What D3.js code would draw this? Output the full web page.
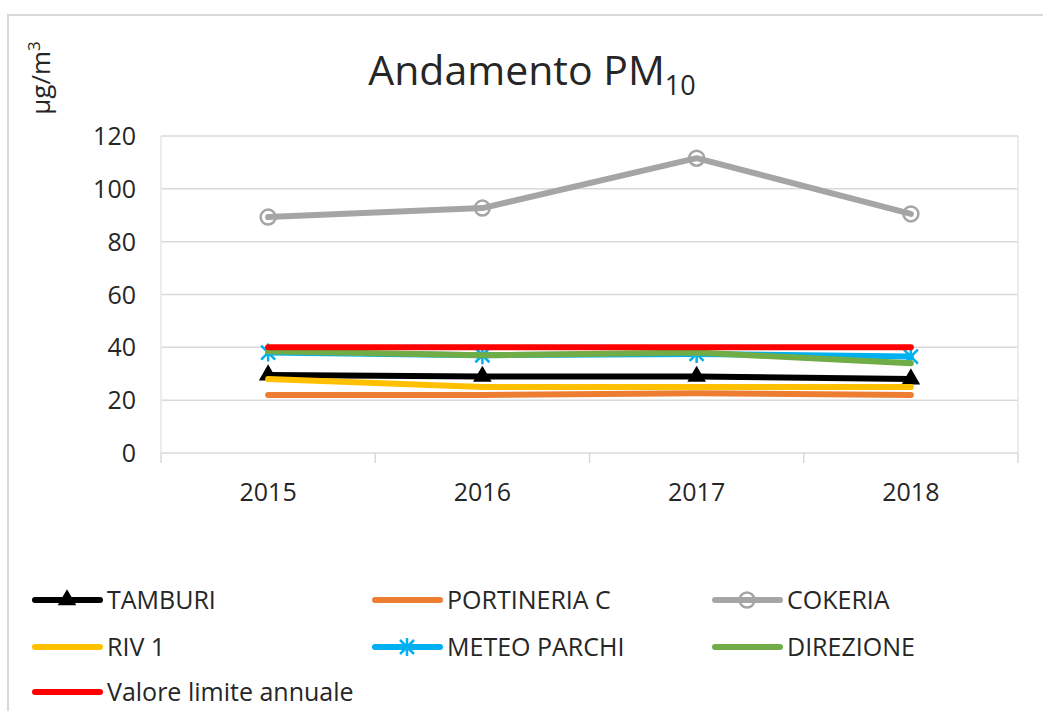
<!DOCTYPE html>
<html lang="it">
<head>
<meta charset="UTF-8">
<title>Andamento PM10</title>
<style>
  body { margin: 0; background: #fff; }
  text { font-family: "Open Sans", sans-serif; fill: #262626; }
</style>
</head>
<body>
<script src="https://d3js.org/d3.v7.min.js"></script>
<script>
  // data
  var years = ["2015", "2016", "2017", "2018"];
  var tamburi     = [29.5, 29, 29, 28];
  var portineria  = [22, 22, 22.6, 22];
  var cokeria     = [89.3, 92.7, 111.6, 90.5];
  var riv1        = [28, 25, 25, 25];
  var meteoParchi = [38, 37, 37.5, 36.5];
  var direzione   = [38.5, 37, 38, 34];
  var limite      = [40, 40, 40, 40];
  var yTicks = [0, 20, 40, 60, 80, 100, 120];

  var series = [
    {name: "TAMBURI", values: tamburi, color: "#000000", marker: "triangle"},
    {name: "PORTINERIA C", values: portineria, color: "#ED7D31", marker: null},
    {name: "COKERIA", values: cokeria, color: "#A5A5A5", marker: "circle"},
    {name: "RIV 1", values: riv1, color: "#FFC000", marker: null},
    {name: "METEO PARCHI", values: meteoParchi, color: "#00B0F0", marker: "star"},
    {name: "DIREZIONE", values: direzione, color: "#70AD47", marker: null},
    {name: "Valore limite annuale", values: limite, color: "#FF0000", marker: null}
  ];

  var W = 1043, H = 711;
  var plot = {left: 161, right: 1018, top: 136, bottom: 453};

  var svg = d3.select("body").append("svg")
      .attr("width", W).attr("height", H);

  // outer chart frame (only top and left visible)
  svg.append("path")
      .attr("d", "M8,711 L8,15 L1043,15")
      .attr("fill", "none").attr("stroke", "#d9d9d9").attr("stroke-width", 2);

  var x = d3.scaleBand().domain(years).range([plot.left, plot.right]).padding(0);
  var y = d3.scaleLinear().domain([0, 120]).range([plot.bottom, plot.top]);
  var cx = function(i) { return x(years[i]) + x.bandwidth() / 2; };

  // gridlines
  svg.append("g").selectAll("line")
      .data(yTicks)
    .enter().append("line")
      .attr("x1", plot.left).attr("x2", plot.right)
      .attr("y1", function(d) { return y(d); })
      .attr("y2", function(d) { return y(d); })
      .attr("stroke", "#d9d9d9").attr("stroke-width", 1.5);

  // plot area sides
  [plot.left, plot.right].forEach(function(px) {
    svg.append("line")
        .attr("x1", px).attr("x2", px).attr("y1", plot.top).attr("y2", plot.bottom)
        .attr("stroke", "#e6e6e6").attr("stroke-width", 1.5);
  });

  // y axis labels
  svg.append("g").selectAll("text")
      .data(yTicks)
    .enter().append("text")
      .attr("x", 136)
      .attr("y", function(d) { return y(d); })
      .attr("dy", "0.36em")
      .attr("text-anchor", "end")
      .style("font-size", "25px")
      .text(function(d) { return d; });

  // x axis: tick marks at band boundaries and labels
  var bounds = years.map(function(d) { return x(d); }).concat([plot.right]);
  svg.append("g").selectAll("line")
      .data(bounds)
    .enter().append("line")
      .attr("x1", function(d) { return d; }).attr("x2", function(d) { return d; })
      .attr("y1", plot.bottom).attr("y2", plot.bottom + 10)
      .attr("stroke", "#d9d9d9").attr("stroke-width", 1.5);

  svg.append("g").selectAll("text")
      .data(years)
    .enter().append("text")
      .attr("x", function(d, i) { return cx(i); })
      .attr("y", 501)
      .attr("text-anchor", "middle")
      .style("font-size", "25px")
      .text(function(d) { return d; });

  // title
  var title = svg.append("text")
      .attr("x", 532).attr("y", 85)
      .attr("text-anchor", "middle")
      .style("font-size", "41px");
  title.append("tspan").text("Andamento PM");
  title.append("tspan").attr("dy", 10).style("font-size", "27px").text("10");

  // y unit label
  var unit = svg.append("text")
      .attr("transform", "translate(50,78) rotate(-90)")
      .attr("text-anchor", "middle")
      .style("font-size", "26px");
  unit.append("tspan").text("µg/m");
  unit.append("tspan").attr("dy", -10).style("font-size", "17px").text("3");

  var line = d3.line()
      .x(function(d, i) { return cx(i); })
      .y(function(d) { return y(d); });

  function drawMarker(g, type, color, px, py) {
    if (type === "triangle") {
      g.append("path")
          .attr("d", d3.symbol().type(d3.symbolTriangle).size(150)())
          .attr("transform", "translate(" + px + "," + py + ")")
          .attr("fill", color);
    } else if (type === "circle") {
      g.append("circle")
          .attr("cx", px).attr("cy", py).attr("r", 7.5)
          .attr("fill", "none").attr("stroke", color).attr("stroke-width", 2.5);
    } else if (type === "star") {
      g.append("path")
          .attr("d", "M-7,-7L7,7M-7,7L7,-7M0,-9L0,9")
          .attr("transform", "translate(" + px + "," + py + ")")
          .attr("stroke", color).attr("stroke-width", 2.5).attr("fill", "none");
    }
  }

  series.forEach(function(s) {
    var g = svg.append("g");
    g.append("path")
        .datum(s.values)
        .attr("d", line)
        .attr("fill", "none")
        .attr("stroke", s.color)
        .attr("stroke-width", 6)
        .attr("stroke-linecap", "round")
        .attr("stroke-linejoin", "round");
    if (s.marker) {
      s.values.forEach(function(v, i) { drawMarker(g, s.marker, s.color, cx(i), y(v)); });
    }
  });

  // legend
  var colX = [35, 375, 715], rowY = [600, 647, 692];
  series.forEach(function(s, i) {
    var lx = colX[i % 3], ly = rowY[Math.floor(i / 3)];
    var g = svg.append("g");
    g.append("line")
        .attr("x1", lx).attr("x2", lx + 65).attr("y1", ly).attr("y2", ly)
        .attr("stroke", s.color).attr("stroke-width", 6).attr("stroke-linecap", "round");
    if (s.marker) drawMarker(g, s.marker, s.color, lx + 32, ly);
    g.append("text")
        .attr("x", lx + 72).attr("y", ly)
        .attr("dy", "0.36em")
        .style("font-size", "25px")
        .text(s.name);
  });
</script>
</body>
</html>
